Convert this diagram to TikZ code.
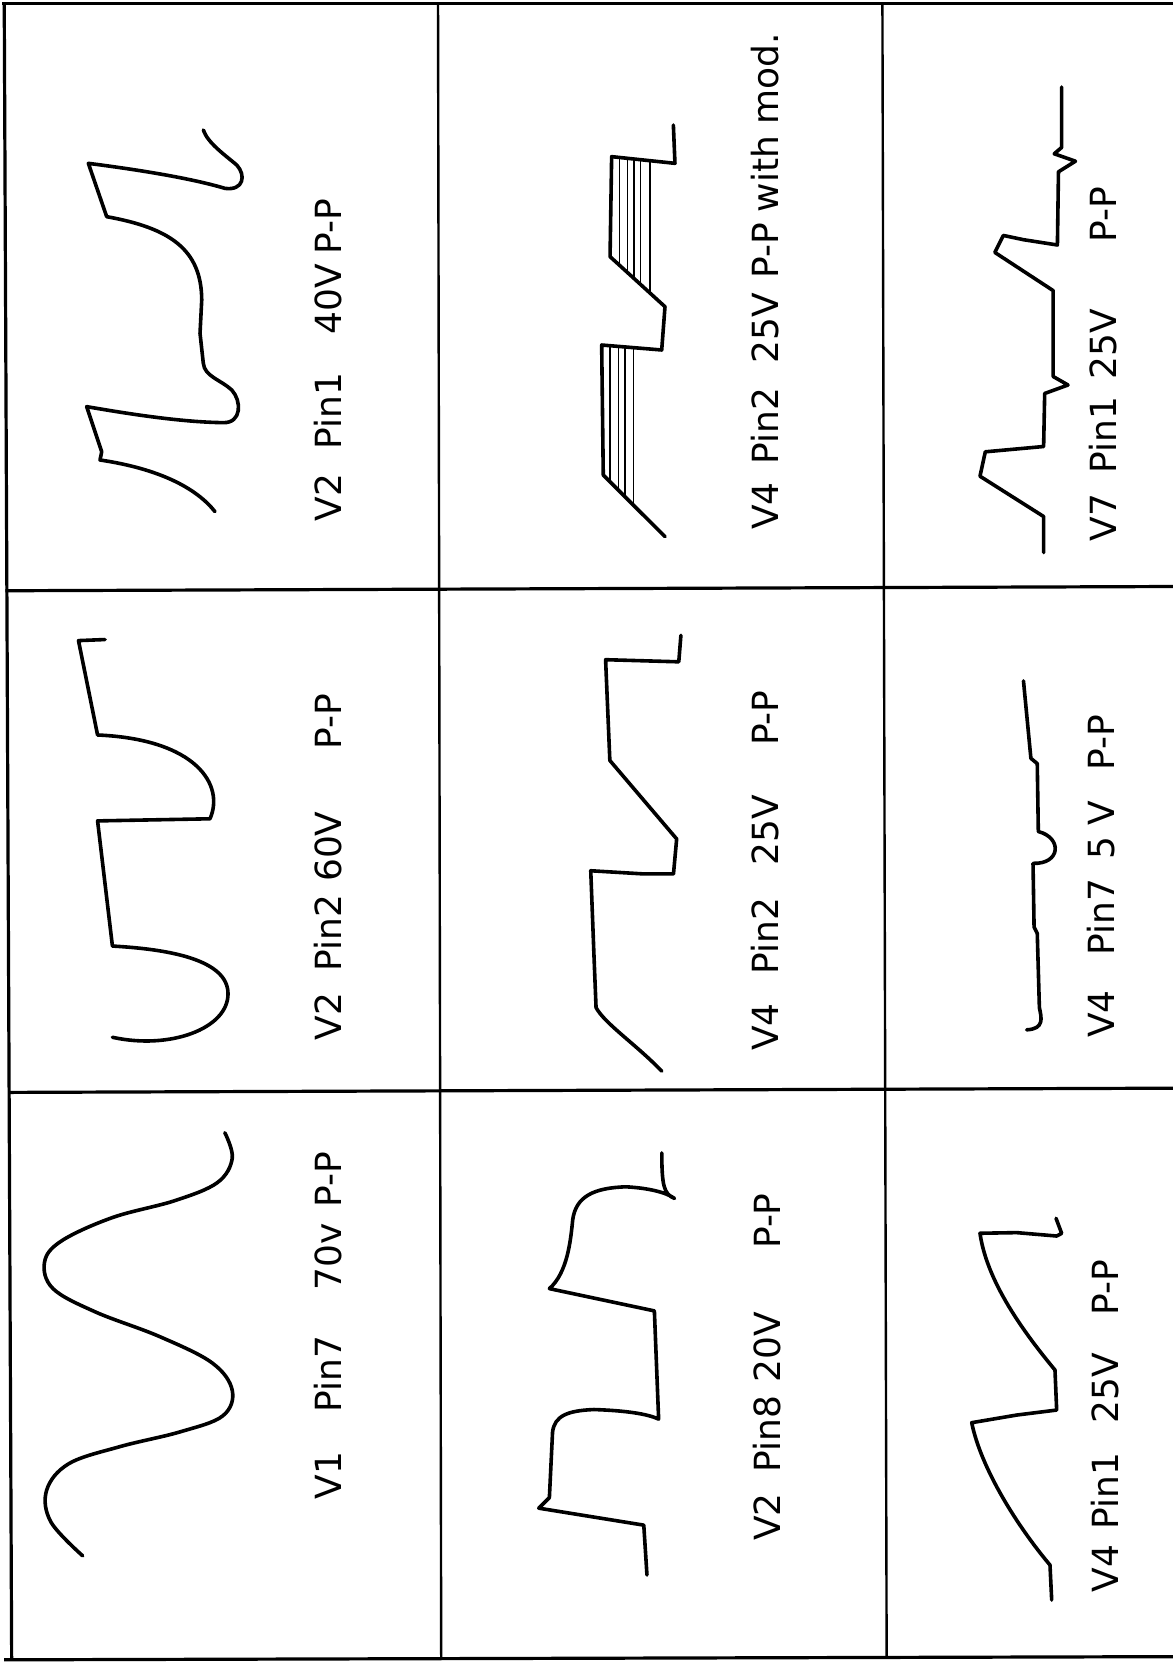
\documentclass[tikz,border=0pt]{standalone}
\usepackage{fontspec}
\setmainfont{DejaVu Sans}
\begin{document}
\begin{tikzpicture}[x=0.5303pt,y=-0.5303pt,
  wave/.style={line width=1.8pt, line join=round, line cap=round},
  hatch/.style={line width=0.6pt},
  hrule/.style={line width=1.6pt},
  vrule/.style={line width=1.2pt},
  lbl/.style={rotate=90, anchor=base west, inner sep=0pt, font=\fontsize{18}{20}\selectfont}]
\fill[white] (0,0) rectangle (1106,1568);
\useasboundingbox (0,0) rectangle (1106,1568);
% frame and grid
\draw[hrule] (2,3.5) -- (1106,3.5);
\draw[hrule] (4,1565) -- (1106,1562);
\draw[hrule] (4,3.5) -- (11,1565);
\draw[hrule] (5,557) -- (1106,553);
\draw[hrule] (8,1030) -- (1106,1026);
\draw[vrule] (413,3.5) -- (416,1565);
\draw[vrule] (832,3.5) -- (836,1563);

% ---- labels ----
\node[lbl] (l1) at (322,492) {V2\hspace{6.4pt} Pin1\hspace{13.7pt} 40V\hspace{-1pt} P-P};
\node[lbl] (l2) at (734,500) {V4\hspace{3.3pt} Pin2\hspace{6.6pt} 25V\hspace{1.4pt} P-P\hspace{-0.5pt} with mod.};
\node[lbl] (l3) at (1053,511) {V7\hspace{4.8pt} Pin1\hspace{2.6pt} 25V\hspace{27.5pt} P-P};
\node[lbl] (l4) at (322,981) {V2\hspace{5pt} Pin2\hspace{0.6pt} 60V\hspace{25.3pt} P-P};
\node[lbl] (l5) at (734,991) {V4\hspace{8.6pt} Pin2\hspace{10.6pt} 25V\hspace{18.7pt} P-P};
\node[lbl] (l6) at (1051,979) {V4\hspace{11.6pt} Pin7\hspace{4.1pt} 5 V\hspace{9.3pt} P-P};
\node[lbl] (l7) at (322,1414) {V1\hspace{13.8pt} Pin7\hspace{17.1pt} 70v\hspace{2pt} P-P};
\node[lbl] (l8) at (736,1453) {V2\hspace{4.8pt} Pin8\hspace{0.7pt} 20V\hspace{25.9pt} P-P};
\node[lbl] (l9) at (1055,1502) {V4\hspace{2.3pt} Pin1\hspace{8.8pt} 25V\hspace{12.8pt} P-P};

% ---- A: V2 Pin1 40V ----
\draw[wave] (202.7,482.4) .. controls (185,460) and (150,442) .. (94.3,433.7)
  -- (95.9,425.9) -- (81.7,383.4)
  .. controls (120,390) and (170,398) .. (210.5,398.5)
  .. controls (228,399) and (228,378) .. (218.5,367.7)
  .. controls (208,358) and (193,355) .. (191.7,342.6)
  -- (188.6,314.3) -- (190.2,282.9)
  .. controls (190,235) and (160,215) .. (100.6,204.3)
  -- (83.3,154)
  .. controls (130,160) and (180,168) .. (212.1,177.6)
  .. controls (230,180) and (232,165) .. (223.2,155.6)
  .. controls (212,146) and (196,135) .. (191.7,122.6);

% ---- B: V4 Pin2 25V with mod. ----
\draw[wave] (627,506) -- (568.8,447.9) -- (567.3,325.3) -- (623.9,330) -- (627,289.2)
  -- (575.2,242) -- (576.7,147.7) -- (636.4,154) -- (634.9,117.9);
\foreach \x/\ya/\yb in {584/148.5/250, 591.5/149.3/256.8, 597.8/149.9/262.6, 604.1/150.6/268.3, 612.9/151.5/276.3}
  \draw[hatch] (\x,\ya) -- (\x,\yb);
\foreach \x/\ya/\yb in {575.2/326/454.3, 583/326.6/462.1, 589.3/327.2/468.4, 597.1/327.8/476.2}
  \draw[hatch] (\x,\ya) -- (\x,\yb);

% ---- C: V7 Pin1 25V ----
\draw[wave] (984,521) -- (984,487) -- (924,449) -- (929,426) -- (984,421) -- (985,371)
  -- (1007,363) -- (993,355) -- (993,274) -- (938,238) -- (946,222) -- (965,226)
  -- (997,231) -- (998,162) -- (1014,152) -- (994,145) -- (1001,139) -- (1001,82);

% ---- D: V2 Pin2 60V ----
\draw[wave] (106,978) .. controls (160,990) and (215,970) .. (215,937)
  .. controls (215,905) and (160,895) .. (106,892)
  -- (92,774) -- (198,772)
  .. controls (212,740) and (185,697) .. (92,693)
  -- (74,604) -- (99,603);

% ---- E: V4 Pin2 25V ----
\draw[wave] (624,1010) .. controls (600,985) and (570,965) .. (562,950)
  -- (560,900) -- (557,821) -- (607,824) -- (635,824) -- (638,791)
  -- (575,717) -- (571,622) -- (640,624) -- (642,599);

% ---- F: V4 Pin7 5V ----
\draw[wave] (968,971) .. controls (985,970) and (982,960) .. (980,950)
  -- (978,880) -- (975,874) -- (974,814)
  .. controls (1000,815) and (1002,790) .. (979,784)
  -- (978,720) -- (972,715) -- (965,642);

% ---- G: V1 Pin7 70v ----
\draw[wave] plot[smooth, tension=0.6] coordinates {(212,1068) (219,1092) (205,1115) (165,1132)
  (106,1148) (58,1170) (42,1190) (50,1215) (90,1237) (150,1260) (200,1285) (219,1311)
  (210,1335) (170,1350) (113,1364) (65,1380) (44,1405) (48,1435) (78,1467)};

% ---- H: V2 Pin8 20V ----
\draw[wave] (610,1485) -- (607,1438) -- (508,1422) -- (518,1412) -- (521,1350)
  .. controls (523,1335) and (535,1330) .. (560,1329)
  .. controls (590,1330) and (610,1333) .. (621,1338)
  -- (617,1236) -- (518,1215)
  .. controls (535,1200) and (538,1170) .. (540,1150)
  .. controls (543,1128) and (560,1120) .. (590,1119)
  .. controls (610,1120) and (628,1124) .. (636,1130)
  .. controls (626,1126) and (624,1118) .. (624,1087);

% ---- I: V4 Pin1 25V ----
\draw[wave] (991.6,1508.6) -- (990,1475.6)
  .. controls (960,1440) and (925,1385) .. (916.2,1341.4)
  -- (958.6,1334.2) -- (996.3,1329.5) -- (994.7,1291.7)
  .. controls (960,1250) and (930,1205) .. (924,1162.8)
  -- (958.6,1162.2) -- (996.3,1165.4) -- (1001,1162.9) -- (995.7,1148.7);
\end{tikzpicture}
\end{document}
